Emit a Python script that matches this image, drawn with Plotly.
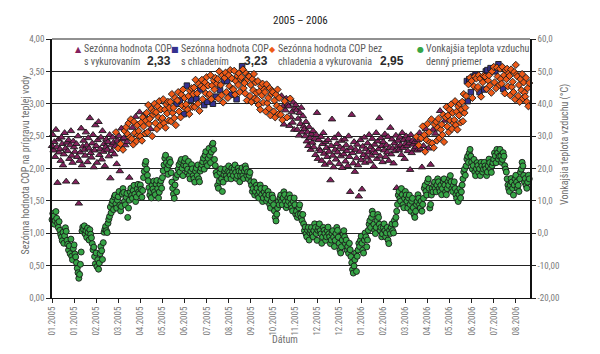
import plotly.graph_objects as go

# ---------------- data ----------------
tick_labels = ["01.2005", "01.2005", "02.2005", "03.2005", "04.2005", "05.2005", "06.2005",
               "07.2005", "08.2005", "09.2005", "10.2005", "11.2005", "12.2005", "12.2005",
               "01.2006", "02.2006", "03.2006", "04.2006", "05.2006", "06.2006", "07.2006", "08.2006"]
tick_days = [0, 28, 56, 84, 112, 140, 168, 196, 224, 252, 280, 308, 336, 364,
             392, 420, 448, 476, 504, 532, 560, 588]

# daily mean outdoor temperature (deg C), day 0 = 1.1.2005
temp = [
4.2, 6.1, 5.3, 2.8, 3.9, 6.7, 4.6, 3.1, 1.8, 3.6,
0.9, -0.4, -1.2, -2.3, 0.3, -3.1, -0.8, 1.7, 0.6, -2.2,
-3.4, -5.2, -3.9, -6.3, -1.8, -7.1, -8.2, -4.7, -3.6, -6.4,
-7.3, -9.1, -10.8, -12.2, -13.9, -12.7, -9.6, -5.8, 0.7, 1.9,
1.2, 2.3, -0.2, 0.8, -1.3, 1.6, 0.2, -2.1, 1.1, -0.3,
-1.4, -3.2, -5.1, -4.3, -7.2, -9.4, -6.1, -10.3, -8.2, -11.1,
-9.2, -6.3, -4.1, -5.4, -8.1, -2.9, 0.3, 1.2, 2.1, 0.8,
0.2, 3.1, 4.3, 5.2, 8.1, 6.3, 9.2, 10.1, 7.3, 11.2,
11.8, 9.1, 7.8, 10.2, 11.3, 12.9, 8.7, 6.9, 8.3, 12.1,
13.8, 12.6, 9.9, 8.8, 11.1, 12.3, 4.9, 7.8, 10.2, 12.8,
13.9, 11.7, 10.8, 13.2, 14.8, 12.1, 9.8, 11.2, 13.7, 15.1,
12.8, 12.2, 14.9, 13.6, 11.1, 13.2, 17.2, 19.1, 21.3, 22.2,
19.8, 17.9, 16.2, 14.1, 11.8, 12.9, 10.9, 14.8, 13.7, 16.1,
12.8, 11.9, 15.2, 16.3, 13.8, 10.9, 12.7, 15.1, 16.2, 13.9,
17.2, 19.3, 21.1, 23.2, 24.1, 21.8, 19.9, 18.2, 21.1, 22.8,
21.9, 18.7, 15.8, 13.9, 12.1, 10.8, 14.9, 17.2, 12.8, 18.1,
19.8, 21.2, 18.9, 22.1, 22.8, 20.1, 17.8, 21.1, 22.2, 23.1,
20.8, 18.9, 19.8, 22.2, 17.9, 16.8, 19.1, 21.2, 19.9, 17.8,
16.9, 15.8, 19.2, 20.1, 17.8, 21.1, 16.8, 15.9, 19.2, 20.1,
21.2, 22.1, 23.2, 19.8, 24.1, 25.2, 21.8, 20.9, 23.1, 26.2,
24.1, 21.8, 25.1, 27.2, 27.8, 25.9, 22.8, 20.9, 18.8, 17.9,
14.8, 13.9, 16.1, 18.8, 19.9, 16.8, 12.9, 15.8, 18.1, 19.2,
19.9, 17.8, 16.9, 19.1, 20.8, 18.8, 17.9, 16.8, 20.1, 18.9,
17.8, 19.9, 21.1, 18.8, 16.9, 17.8, 20.1, 19.2, 15.9, 17.8,
19.1, 20.2, 17.8, 16.9, 19.2, 20.8, 19.9, 17.8, 18.9, 16.8,
17.9, 18.8, 15.9, 14.8, 12.9, 13.8, 15.9, 11.8, 12.9, 14.8,
13.9, 11.8, 10.9, 12.8, 14.9, 13.8, 11.9, 9.8, 10.9, 12.8,
13.9, 11.8, 9.9, 10.8, 12.9, 11.8, 8.9, 7.8, 9.9, 11.8,
10.9, 8.8, 6.9, 4.9, 3.8, 5.9, 7.8, 9.9, 8.8, 10.9,
11.8, 9.9, 8.8, 10.9, 12.8, 11.9, 9.8, 7.9, 8.8, 10.9,
9.8, 11.9, 10.8, 8.9, 7.8, 6.9, 9.8, 10.9, 8.8, 5.9,
6.8, 4.9, 5.8, 7.9, 8.8, 5.9, 4.8, 3.9, 5.8, 2.9,
0.8, 1.9, -0.2, -1.1, 0.9, 1.8, -2.1, 0.1, 0.9, 1.8,
-0.2, -1.1, 0.8, 2.9, 1.8, -0.1, -2.2, 0.9, 1.8, 2.9,
0.8, -0.2, -3.1, -1.2, 1.8, 0.9, -0.1, -2.2, -1.1, 0.8,
1.9, -0.2, -1.1, -3.2, -2.1, -0.1, 0.8, -1.2, -4.1, -2.2,
-0.1, 1.8, 0.9, -1.2, -3.1, -5.2, -6.1, -4.2, -2.1, -0.2,
0.8, -1.1, -3.2, -2.1, -5.2, -4.1, -6.2, -3.1, -5.1, -7.2,
-9.1, -11.2, -12.3, -10.1, -8.2, -6.1, -11.8, -7.1, -5.2, -3.1,
-4.1, -2.2, -0.9, -3.1, -5.2, -6.1, -2.1, 0.1, -1.1, -4.2,
-2.1, 0.9, 2.8, 3.9, 1.8, 4.9, 6.8, 5.9, 2.8, 0.9,
-0.1, 1.8, 3.9, 5.8, 4.9, 2.8, 0.9, 1.8, -1.1, -0.2,
1.8, 2.9, 0.8, -1.1, 0.1, 1.8, -2.1, -3.2, 0.9, -0.1,
1.8, 2.9, 0.8, 0.1, 3.9, 2.8, 4.9, 6.8, 8.9, 11.8,
12.9, 10.8, 9.9, 13.8, 11.9, 8.8, 7.9, 10.8, 12.9, 11.8,
9.9, 7.8, 10.9, 11.8, 8.9, 6.8, 9.9, 10.8, 7.9, 5.8,
4.9, 6.8, 8.9, 9.8, 11.9, 10.8, 8.9, 7.8, 9.9, 6.8,
8.9, 10.8, 13.9, 14.8, 12.9, 11.8, 15.9, 16.8, 13.9, 7.8,
8.9, 11.8, 13.9, 12.8, 14.9, 15.8, 13.9, 12.8, 14.9, 16.8,
15.9, 13.8, 12.9, 14.8, 11.9, 13.8, 15.9, 16.8, 14.9, 12.8,
11.9, 13.8, 15.9, 14.8, 16.9, 17.8, 15.9, 13.8, 12.9, 14.8,
15.9, 13.8, 11.9, 10.8, 12.9, 9.8, 11.9, 13.8, 10.9, 12.8,
14.9, 16.8, 18.9, 19.8, 17.9, 20.8, 22.9, 23.8, 21.9, 24.8,
25.9, 23.8, 21.9, 19.8, 20.9, 22.8, 18.9, 17.8, 19.9, 21.8,
20.9, 18.8, 19.9, 17.8, 21.9, 20.8, 18.9, 19.8, 21.9, 20.8,
19.9, 17.8, 18.9, 20.8, 22.9, 21.8, 19.9, 18.8, 20.9, 21.8,
22.9, 24.8, 23.9, 21.8, 25.9, 24.8, 22.9, 23.8, 25.9, 23.8,
21.9, 22.8, 24.9, 23.8, 20.9, 19.8, 18.9, 16.8, 14.9, 13.8,
12.9, 14.8, 16.9, 15.8, 13.9, 11.8, 14.9, 16.8, 17.9, 15.8,
13.9, 14.8, 12.9, 16.8, 18.9, 19.8, 21.9, 20.8, 17.9, 15.8,
16.9, 14.8, 13.9, 15.8, 17.9, 16.8,
]

# daily COP of hot water preparation
cop = [
2.35, 2.52, 2.28, 2.41, 2.18, 2.60, 2.33, 1.78, 2.45, 2.25,
2.30, 2.12, 2.48, 2.38, 2.05, 2.22, 2.55, 2.31, 1.80, 2.40,
2.27, 2.44, 2.15, 2.36, 2.58, 2.20, 2.09, 2.42, 2.33, 2.26,
1.79, 2.38, 2.18, 2.50, 1.46, 2.12, 2.25, 2.62, 2.05, 2.34,
2.43, 2.29, 2.20, 2.56, 2.36, 2.10, 2.47, 2.31, 2.78, 2.24,
2.17, 2.39, 2.52, 2.02, 2.28, 2.67, 2.35, 2.09, 2.44, 2.72,
2.21, 2.30, 2.48, 2.14, 2.58, 2.26, 2.38, 2.04, 2.33, 2.45,
2.29, 2.41, 2.19, 2.52, 1.85, 2.36, 2.27, 2.48, 2.40, 2.22,
2.34, 2.56, 2.07, 2.43, 2.31, 2.50, 1.96, 2.38, 2.62, 2.45,
2.29, 2.47, 2.58, 2.36, 2.64, 2.41, 2.53, 2.70, 1.86, 2.48,
2.76, 2.46, 2.63, 2.37, 2.72, 2.55, 2.80, 2.42, 2.67, 2.51,
2.58, 2.87, 2.50, 2.71, 2.43, 2.79, 2.65, 2.83, 2.54, 2.74,
2.86, 2.56, 2.98, 2.69, 2.77, 2.61, 2.92, 2.50, 2.83, 2.88,
3.00, 2.70, 2.87, 2.61, 2.96, 2.79, 3.04, 2.66, 2.91, 2.75,
2.78, 3.07, 2.70, 2.91, 2.63, 2.99, 2.85, 3.03, 2.74, 2.94,
3.03, 2.73, 3.15, 2.86, 2.94, 2.78, 3.09, 2.67, 3.00, 3.05,
3.18, 2.88, 3.05, 2.79, 3.14, 2.97, 3.22, 2.84, 3.09, 2.93,
2.99, 3.28, 2.91, 3.12, 2.84, 3.20, 3.06, 3.24, 2.95, 3.15,
3.25, 2.95, 3.37, 3.08, 3.16, 3.00, 3.31, 2.89, 3.22, 3.27,
3.37, 3.07, 3.24, 2.98, 3.33, 3.16, 3.41, 3.03, 3.28, 3.12,
3.15, 3.44, 3.07, 3.28, 3.00, 3.36, 3.22, 3.40, 3.11, 3.31,
3.38, 3.08, 3.50, 3.21, 3.29, 3.13, 3.44, 3.02, 3.35, 3.40,
3.48, 3.18, 3.35, 3.09, 3.44, 3.27, 3.52, 3.14, 3.39, 3.23,
3.22, 3.51, 3.14, 3.35, 3.07, 3.43, 3.29, 3.47, 3.18, 3.38,
3.41, 3.58, 3.53, 3.24, 3.32, 3.16, 3.47, 3.05, 3.38, 3.43,
3.42, 3.12, 3.29, 3.03, 3.38, 3.21, 3.46, 3.08, 3.33, 3.17,
3.06, 3.35, 2.98, 3.19, 2.91, 3.27, 3.13, 3.31, 3.02, 3.22,
3.18, 2.88, 3.30, 3.01, 3.09, 2.93, 3.24, 2.82, 3.15, 3.20,
3.18, 2.88, 3.05, 2.79, 3.14, 2.97, 3.22, 2.84, 3.09, 2.93,
2.83, 3.12, 2.75, 2.96, 2.68, 3.04, 2.90, 3.08, 2.79, 2.99,
2.96, 2.66, 3.08, 2.79, 2.87, 2.71, 3.02, 2.60, 2.93, 2.98,
2.90, 2.60, 2.77, 2.51, 2.86, 2.69, 2.94, 2.56, 2.81, 2.65,
2.61, 2.50, 2.72, 2.42, 2.56, 2.35, 2.64, 2.47, 2.29, 2.53,
2.40, 2.58, 2.33, 2.46, 2.21, 2.52, 2.86, 2.15, 2.44, 2.30,
2.27, 2.49, 2.12, 2.38, 2.55, 2.23, 2.06, 2.41, 2.32, 2.18,
2.44, 2.26, 2.09, 1.82, 2.35, 2.76, 2.20, 2.02, 2.47, 2.29,
2.14, 2.38, 2.25, 2.52, 2.07, 2.33, 2.19, 2.43, 2.01, 2.30,
2.22, 2.45, 2.11, 2.36, 2.27, 2.04, 2.50, 2.18, 1.64, 2.32,
2.83, 2.24, 2.08, 2.41, 1.95, 2.29, 2.16, 2.37, 2.05, 1.57,
2.26, 2.44, 2.13, 1.68, 2.34, 2.21, 2.48, 2.09, 2.30, 2.17,
2.39, 2.25, 2.52, 2.11, 2.33, 2.20, 2.46, 2.28, 2.03, 2.37,
2.24, 2.55, 2.15, 2.42, 2.30, 2.78, 2.19, 2.47, 2.35, 2.10,
2.41, 2.28, 2.53, 2.18, 2.36, 2.25, 2.49, 2.12, 2.32, 2.63,
2.22, 2.45, 2.31, 2.08, 2.39, 2.27, 2.51, 1.70, 2.34, 2.43,
2.29, 2.48, 2.36, 2.21, 2.55, 2.32, 2.44, 2.15, 2.38, 2.50,
2.35, 2.27, 2.46, 2.39, 1.98, 2.52, 2.24, 2.43, 2.37, 2.30,
2.41, 2.33, 2.49, 2.28, 2.44, 2.36, 2.55, 2.30, 2.47, 2.02,
2.65, 2.35, 2.52, 2.26, 2.61, 2.44, 2.69, 2.31, 2.56, 2.40,
2.06, 2.76, 2.39, 2.60, 2.32, 2.68, 2.54, 2.72, 2.43, 2.63,
2.77, 2.47, 2.89, 2.60, 2.68, 2.52, 2.83, 2.41, 2.74, 2.79,
2.95, 2.65, 2.82, 2.56, 2.91, 2.74, 2.99, 2.61, 2.86, 2.70,
2.75, 3.04, 2.67, 2.88, 2.60, 2.96, 2.82, 3.00, 2.71, 2.91,
3.03, 2.73, 3.15, 2.86, 2.94, 3.12, 3.35, 3.04, 3.30, 3.38,
3.40, 3.18, 3.35, 3.09, 3.42, 3.27, 3.42, 3.45, 3.39, 3.23,
3.26, 3.44, 3.18, 3.39, 3.11, 3.40, 3.33, 3.43, 3.22, 3.42,
3.50, 3.23, 3.52, 3.36, 3.44, 3.28, 3.55, 3.17, 3.50, 3.53,
3.57, 3.33, 3.50, 3.24, 3.56, 3.42, 3.61, 3.29, 3.54, 3.38,
3.31, 3.57, 3.23, 3.44, 3.16, 3.52, 3.38, 3.54, 3.27, 3.47,
3.43, 3.13, 3.53, 3.26, 3.34, 3.18, 3.49, 3.07, 3.60, 3.45,
3.42, 3.12, 3.29, 3.03, 3.38, 3.21, 3.46, 3.08, 3.33, 3.17,
3.11, 3.40, 3.03, 3.24, 2.96, 3.32,
]

# operating mode per day: H = heating, C = cooling, N = neither
mode = (
"HHHHHHHHHH" "HHHHHHHHHH" "HHHHHHHHHH" "HHHHHHHHHH"
"HHHHHHHHHH" "HHHHHHHHHH" "HHHHHHHHHH" "HHHHHHHHHH"
"HNHHNHHNHH" "NHNHNHNNHN" "NNHNNNHNNN" "NHNNNNNHNN"
"NNNNNHNNNN" "NNNNNNNNNN" "NNNNNNNNNN" "NNNNNNNNCN"
"NNCNNNNCNN" "NCNNNNCNNN" "NNNCNNNNCN" "NNNCNNNCNN"
"NNNNCNNNCN" "NNNCNNNNCN" "NNCNNNNCNN" "NNNNCNNNNN"
"NCNNNNNNNN" "NNNNNNNNNN" "NNNNNNNNNN" "NNNNNNNNNN"
"NNNNNNNNNN" "NHNHHNHHNH" "HHNHHHHHHH" "HHHHHHHHHH"
"HHHHHHHHHH" "HHHHHHHHHH" "HHHHHHHHHH" "HHHHHHHHHH"
"HHHHHHHHHH" "HHHHHHHHHH" "HHHHHHHHHH" "HHHHHHHHHH"
"HHHHHHHHHH" "HHHHHHHHHH" "HHHHHHHHHH" "HHHHHHHHHH"
"HHHHHHHHHH" "HHHHHHHHHH" "HHNHHNHHNH" "NHNNHNNHNN"
"HNNHNNHNNN" "NNHNNNNNHN" "NNNNNNNNNN" "NNNNNNNNNN"
"NNNNNNCCNC" "NCNNCNNCNN" "NNCNNCNNCN" "CNCNNNCNNC"
"NNCNNNCNNN" "NNCNNNNNNN" "NNNNNNNNNN" "NNNNNNNNNN"
"NNNNNN"
)

series_names = ["Sezónna hodnota COP s vykurovaním", "Sezónna hodnota COP s chladením",
                "Sezónna hodnota COP bez chladenia a vykurovania", "Vonkajšia teplota vzduchu denný priemer"]
seasonal_cop = ["2,33", "3,23", "2,95"]

# ---------------- figure ----------------
W, H = 600, 354
ML, MR, MT, MB = 52, 70, 39, 56
PW, PH = W - ML - MR, H - MT - MB

def px(x):
    return (x - ML) / PW

def py(y):
    return 1 - (y - MT) / PH

EDGE = dict(color="#1a1a1a", width=0.9)
COL_H, COL_C, COL_N, COL_T = "#85215e", "#35318f", "#ee5a18", "#36a546"

fig = go.Figure()

groups = {"H": ([], []), "C": ([], []), "N": ([], [])}
for d, (v, m) in enumerate(zip(cop, mode)):
    groups[m][0].append(d)
    groups[m][1].append(v)

fig.add_trace(go.Scatter(x=groups["H"][0], y=groups["H"][1], mode="markers", name=series_names[0],
                         marker=dict(symbol="triangle-up", size=6.5, color=COL_H, line=EDGE),
                         cliponaxis=False))
fig.add_trace(go.Scatter(x=groups["C"][0], y=groups["C"][1], mode="markers", name=series_names[1],
                         marker=dict(symbol="square", size=5.5, color=COL_C, line=EDGE),
                         cliponaxis=False))
fig.add_trace(go.Scatter(x=groups["N"][0], y=groups["N"][1], mode="markers", name=series_names[2],
                         marker=dict(symbol="diamond", size=5.5, color=COL_N, line=EDGE),
                         cliponaxis=False))
fig.add_trace(go.Scatter(x=list(range(len(temp))), y=temp, mode="markers", name=series_names[3],
                         yaxis="y2",
                         marker=dict(symbol="circle", size=6, color=COL_T, line=EDGE),
                         cliponaxis=False))

FONT = "Liberation Sans Narrow, Arial Narrow, Roboto Condensed, Liberation Sans, Arial, sans-serif"
GRAY = "#7a7a7a"

left_vals = [i * 0.5 for i in range(9)]
right_vals = list(range(-20, 61, 10))
right_text = ["-20,00", "-10,00", "0,0", "10,0", "20,0", "30,0", "40,0", "50,0", "60,0"]

fig.update_layout(
    width=W, height=H, margin=dict(l=ML, r=MR, t=MT, b=MB),
    paper_bgcolor="white", plot_bgcolor="white", showlegend=False,
    font=dict(family=FONT, size=9, color=GRAY),
    xaxis=dict(range=[0, 606], tickmode="array", tickvals=tick_days, ticktext=tick_labels,
               tickangle=-90, ticks="outside", ticklen=4, tickcolor="#222", showgrid=False,
               showline=True, linecolor="#111", linewidth=1, zeroline=False,
               tickfont=dict(size=9, color=GRAY)),
    yaxis=dict(range=[0, 4], tickmode="array", tickvals=left_vals,
               ticktext=[f"{v:.2f}".replace(".", ",") for v in left_vals],
               ticks="outside", ticklen=4, tickcolor="#222", showgrid=True, gridcolor="#222",
               gridwidth=1, showline=True, linecolor="#111", linewidth=1.5, zeroline=False,
               tickfont=dict(size=9, color=GRAY)),
    yaxis2=dict(range=[-20, 60], overlaying="y", side="right", tickmode="array",
                tickvals=right_vals, ticktext=right_text, ticks="outside", ticklen=4,
                tickcolor="#222", showgrid=False, showline=True, linecolor="#111", linewidth=1.5,
                zeroline=False, tickfont=dict(size=9, color=GRAY)),
    shapes=[dict(type="line", xref="paper", yref="paper", x0=0, x1=1, y0=1, y1=1,
                 line=dict(color="#222", width=1), layer="below")],
)

ann = []
ann.append(dict(x=px(300), y=py(12), xref="paper", yref="paper", text="2005 – 2006",
                showarrow=False, font=dict(size=11, color="#222", family=FONT)))
ann.append(dict(x=px(17), y=py(165), xref="paper", yref="paper", textangle=-90,
                text="Sezónna hodnota COP na prípravu teplej vody", showarrow=False,
                font=dict(size=10, color="#6e6e6e", family=FONT)))
ann.append(dict(x=px(573), y=py(145), xref="paper", yref="paper", textangle=-90,
                text="Vonkajšia teplota vzduchu (°C)", showarrow=False,
                font=dict(size=10, color="#6e6e6e", family=FONT)))
ann.append(dict(x=px(285), y=py(347), xref="paper", yref="paper", text="Dátum",
                showarrow=False, font=dict(size=10, color="#6e6e6e", family=FONT)))

leg = [
    (78, "▲", COL_H, "Sezónna hodnota COP", "s vykurovaním", 145, seasonal_cop[0]),
    (175, "■", COL_C, "Sezónna hodnota COP", "s chladením", 242, seasonal_cop[1]),
    (272, "◆", COL_N, "Sezónna hodnota COP bez", "chladenia a vykurovania", 378, seasonal_cop[2]),
    (420, "●", COL_T, "Vonkajšia teplota vzduchu", "denný priemer", None, None),
]
LC = "#5a5a5a"
for mx, sym, col, l1, l2, bx, btxt in leg:
    ann.append(dict(x=px(mx), y=py(49), xref="paper", yref="paper", text=sym, showarrow=False,
                    xanchor="center", yanchor="middle", font=dict(size=8, color=col, family="DejaVu Sans")))
    ann.append(dict(x=px(mx + 4), y=py(48.5), xref="paper", yref="paper", text=l1, showarrow=False,
                    xanchor="left", yanchor="middle", font=dict(size=10, color=LC, family=FONT)))
    ann.append(dict(x=px(mx + 4), y=py(61), xref="paper", yref="paper", text=l2, showarrow=False,
                    xanchor="left", yanchor="middle", font=dict(size=10, color=LC, family=FONT)))
    if bx is not None:
        ann.append(dict(x=px(bx), y=py(61), xref="paper", yref="paper", text=f"<b>{btxt}</b>",
                        showarrow=False, xanchor="left", yanchor="middle",
                        font=dict(size=12, color="#2a2a2a", family="Liberation Sans, Arial, sans-serif")))

fig.update_layout(annotations=ann)
fig.write_html("out.html")
